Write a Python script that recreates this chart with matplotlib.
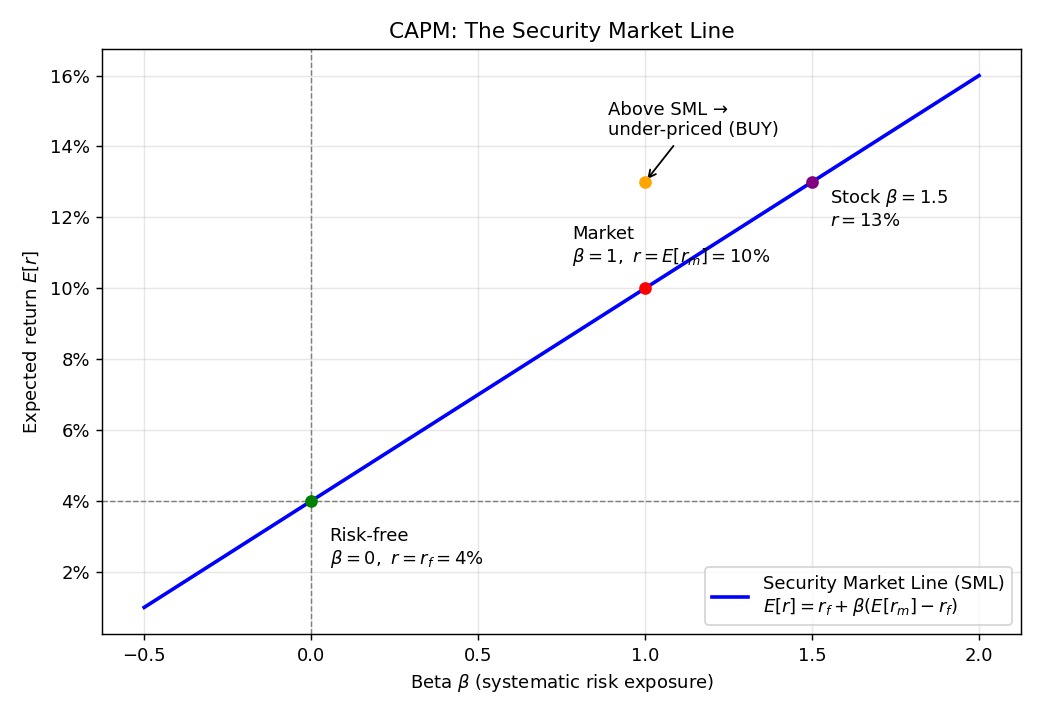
import matplotlib
matplotlib.use("Agg")
import matplotlib.pyplot as plt
import numpy as np
from matplotlib.ticker import PercentFormatter

rf = 0.04
rm = 0.10
beta_range = [-0.5, 2.0]
points_beta = [0.0, 1.0, 1.5, 1.0]
points_ret = [0.04, 0.10, 0.13, 0.13]
points_color = ["green", "red", "purple", "orange"]

betas = np.array(beta_range)
sml = rf + betas * (rm - rf)

fig, ax = plt.subplots(figsize=(8, 5.5), dpi=130)
fig.subplots_adjust(left=0.0985, right=0.9815, top=0.9315, bottom=0.1133)

ax.plot(betas, sml, color="blue", lw=2,
        label="Security Market Line (SML)\n$E[r] = r_f + \\beta(E[r_m] - r_f)$")
ax.axhline(rf, color="gray", ls="--", lw=0.8)
ax.axvline(0, color="gray", ls="--", lw=0.8)

for b, r, c in zip(points_beta, points_ret, points_color):
    ax.plot([b], [r], "o", color=c, ms=6, zorder=5)

ax.text(0.055, 0.0223, "Risk-free\n$\\beta = 0,\\ r = r_f = 4\\%$")
ax.text(0.782, 0.1073, "Market\n$\\beta = 1,\\ r = E[r_m] = 10\\%$")
ax.text(1.555, 0.1175, "Stock $\\beta = 1.5$\n$r = 13\\%$")
ax.annotate("Above SML →\nunder-priced (BUY)", xy=(1.0, 0.13), xytext=(0.89, 0.1431),
            arrowprops=dict(arrowstyle="->", color="black"))

ax.yaxis.set_major_formatter(PercentFormatter(1.0, decimals=0))
ax.grid(True, alpha=0.3)
ax.set_xlabel("Beta $\\beta$ (systematic risk exposure)")
ax.set_ylabel("Expected return $E[r]$")
ax.set_title("CAPM: The Security Market Line")
ax.legend(loc="lower right")

fig.savefig("out.png", dpi=130)
